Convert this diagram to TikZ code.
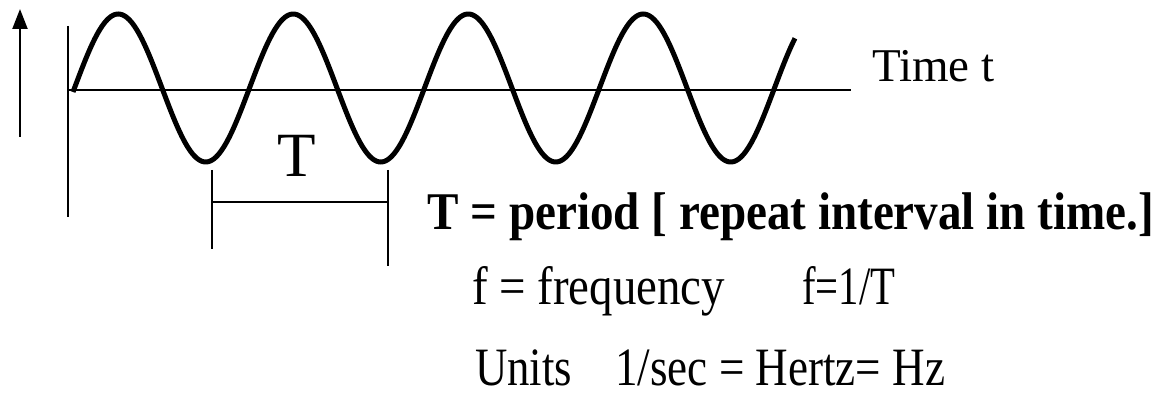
\documentclass[tikz,border=0pt]{standalone}
\usepackage{fontspec}
\setmainfont{Liberation Serif}
\usetikzlibrary{arrows.meta}
\begin{document}
\begin{tikzpicture}[x=1pt,y=1pt,
  axisline/.style={line width=2.2pt, black},
  waveline/.style={line width=5pt, black},
  dimline/.style={line width=2pt, black},
  lbl/.style={inner sep=0pt, anchor=base west},
]
\useasboundingbox (0,0) rectangle (1163,-403);
% coordinates
\coordinate (arrB) at (20,-137);
\coordinate (arrT) at (20,-9);
\coordinate (vaT) at (68,-26);
\coordinate (vaB) at (68,-217);
\coordinate (haL) at (68,-90);
\coordinate (haR) at (851,-90);
\coordinate (dLT) at (212,-170);
\coordinate (dLB) at (212,-249);
\coordinate (dRT) at (388,-170);
\coordinate (dRB) at (388,-266);
\coordinate (dL) at (212,-202);
\coordinate (dR) at (388,-202);
% arrow and axes
\draw[axisline, -{Triangle[width=15pt,length=20pt]}] (arrB) -- (arrT);
\draw[axisline] (vaT) -- (vaB);
\draw[axisline] (haL) -- (haR);
% wave
\draw[waveline] plot[domain=73:795, samples=400] (\x, {-(88-74*sin((\x-74.5)*2.057143))});
% dimension
\draw[dimline] (dLT) -- (dLB);
\draw[dimline] (dRT) -- (dRB);
\draw[dimline] (dL) -- (dR);
% labels
\node[lbl] (Tlab) at (277,-177) {\fontsize{63}{63}\selectfont T};
\node[lbl] (time) at (872,-82) {\fontsize{47}{47}\selectfont Time t};
\node[lbl] (def) at (427,-230) {\resizebox{727pt}{\height}{\fontsize{53}{53}\selectfont\bfseries T = period [ repeat interval in time.]}};
\node[lbl] (freq) at (472,-305) {\resizebox{253pt}{\height}{\fontsize{54}{54}\selectfont f = frequency}};
\node[lbl] (finv) at (802,-305) {\resizebox{93pt}{\height}{\fontsize{54}{54}\selectfont f=1/T}};
\node[lbl] (units) at (475,-386) {\resizebox{97pt}{\height}{\fontsize{54}{54}\selectfont Units}};
\node[lbl] (hz) at (615,-386) {\resizebox{330pt}{\height}{\fontsize{54}{54}\selectfont 1/sec = Hertz= Hz}};
\end{tikzpicture}
\end{document}
